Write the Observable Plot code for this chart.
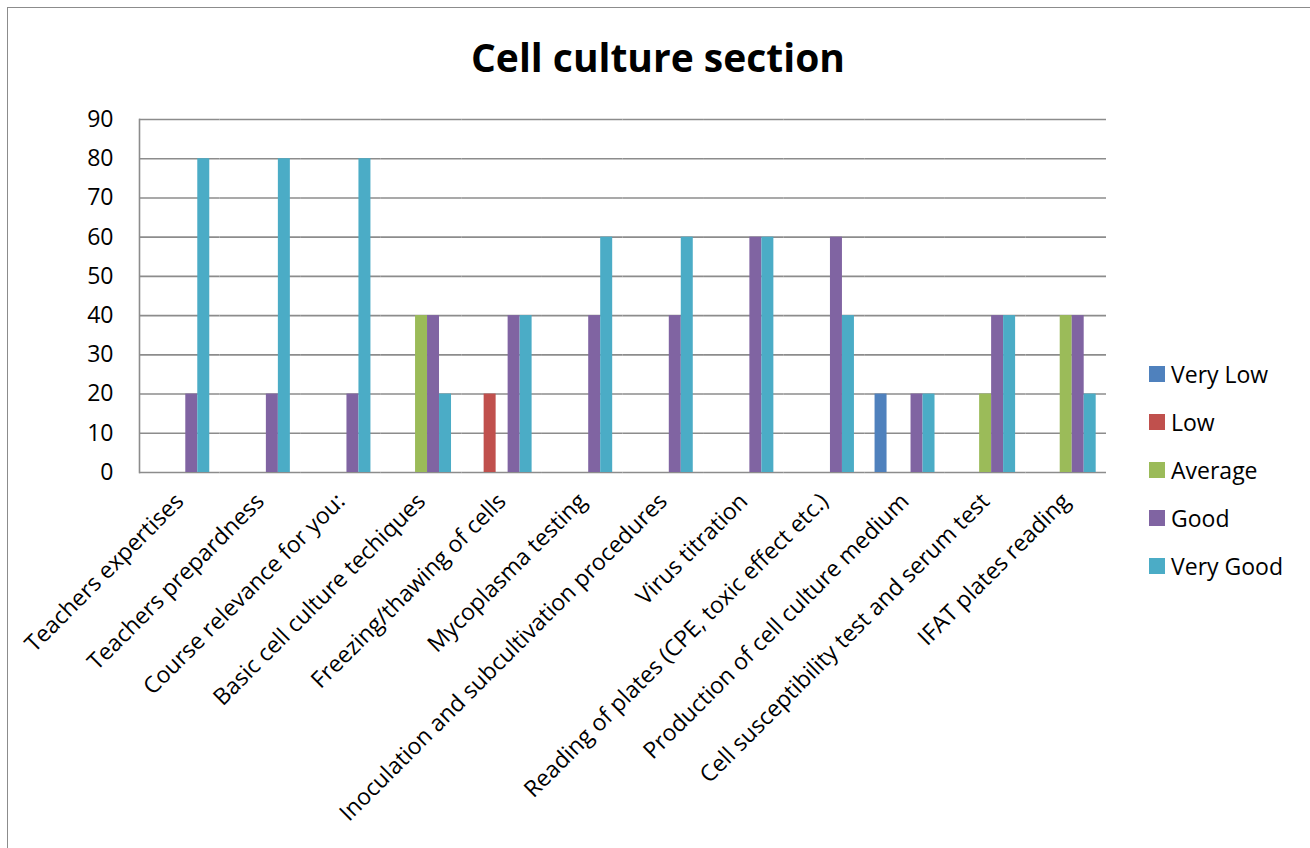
<!DOCTYPE html>
<html>
<head>
<meta charset="utf-8">
<script src="https://cdn.jsdelivr.net/npm/d3@7"></script>
<script src="https://cdn.jsdelivr.net/npm/@observablehq/plot@0.6"></script>
<style>
  body { margin: 0; background: #fff; }
  #wrap { position: relative; width: 1310px; height: 848px; overflow: hidden; background: #fff; }
  #border { position: absolute; left: 7px; top: 7px; width: 1320px; height: 860px; border: 1.5px solid #8c8c8c; box-sizing: border-box; }
  #title { position: absolute; left: 0; width: 1316px; top: 30px; text-align: center; font-family: "Open Sans", sans-serif; font-weight: bold; font-size: 39px; color: #000; }
  #chart { position: absolute; left: 0; top: 0; }
  #legend { position: absolute; left: 1149px; top: 350px; font-family: "Open Sans", sans-serif; font-size: 23px; color: #000; }
  .item { height: 48px; display: flex; align-items: center; }
  .sw { width: 16px; height: 16px; margin-right: 6px; }
</style>
</head>
<body>
<div id="wrap">
  <div id="border"></div>
  <div id="title">Cell culture section</div>
  <div id="chart"></div>
  <div id="legend"></div>
</div>
<script>
const categories = [
  "Teachers expertises",
  "Teachers prepardness",
  "Course relevance for you:",
  "Basic cell culture techiques",
  "Freezing/thawing of cells",
  "Mycoplasma testing",
  "Inoculation and subcultivation procedures",
  "Virus titration",
  "Reading of plates (CPE, toxic effect etc.)",
  "Production of cell culture medium",
  "Cell susceptibility test and serum test",
  "IFAT plates reading"
];
const series = ["Very Low", "Low", "Average", "Good", "Very Good"];
const veryLow  = [0, 0, 0, 0, 0, 0, 0, 0, 0, 20, 0, 0];
const low      = [0, 0, 0, 0, 20, 0, 0, 0, 0, 0, 0, 0];
const average  = [0, 0, 0, 40, 0, 0, 0, 0, 0, 0, 20, 40];
const good     = [20, 20, 20, 40, 40, 40, 40, 60, 60, 20, 40, 40];
const veryGood = [80, 80, 80, 20, 40, 60, 60, 60, 40, 20, 40, 20];
const yTicks = [0, 10, 20, 30, 40, 50, 60, 70, 80, 90];
const colors = ["#4F81BD", "#C0504D", "#9BBB59", "#8064A2", "#4BACC6"];

const seriesValues = [veryLow, low, average, good, veryGood];
const data = [];
categories.forEach((c, i) => {
  series.forEach((s, j) => {
    const v = seriesValues[j][i];
    if (v > 0) data.push({category: c, series: s, value: v});
  });
});

const font = "'Open Sans', sans-serif";
const chart = Plot.plot({
  width: 1120,
  height: 848,
  marginLeft: 139,
  marginRight: 14,
  marginTop: 119,
  marginBottom: 376,
  style: {fontFamily: font, fontSize: "23px", color: "#000", background: "transparent"},
  fx: {domain: categories, padding: 0, round: false, label: null},
  x: {domain: series, paddingInner: 0, paddingOuter: 0.86, round: false, axis: null},
  y: {domain: [0, 90], label: null},
  color: {domain: series, range: colors},
  marks: [
    Plot.ruleY(yTicks, {stroke: "#8c8c8c", strokeWidth: 1.6}),
    Plot.barY(data, {fx: "category", x: "series", y: "value", fill: "series"}),
    Plot.frame({anchor: "left", facetAnchor: "left", stroke: "#8c8c8c", strokeWidth: 1.6}),
    Plot.axisY({ticks: yTicks, tickSize: 0, tickPadding: 26, label: null, fontSize: 23}),
    Plot.axisFx({anchor: "bottom", tickRotate: -45, tickSize: 0, tickPadding: 25, label: null, fontSize: 23})
  ]
});
document.getElementById("chart").appendChild(chart);

const legend = document.getElementById("legend");
series.forEach((s, j) => {
  const row = document.createElement("div");
  row.className = "item";
  const sw = document.createElement("div");
  sw.className = "sw";
  sw.style.background = colors[j];
  const t = document.createElement("span");
  t.textContent = s;
  row.appendChild(sw);
  row.appendChild(t);
  legend.appendChild(row);
});
</script>
</body>
</html>
